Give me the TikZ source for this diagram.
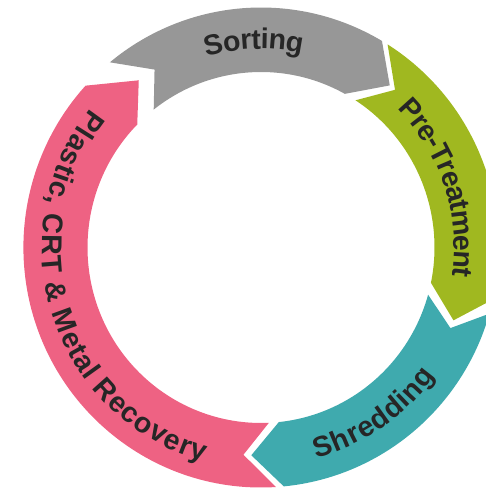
\documentclass[tikz,border=0pt]{standalone}
\usepackage{fontspec}
\setmainfont{Liberation Sans}
\usetikzlibrary{decorations.text}
\definecolor{cgray}{HTML}{979797}
\definecolor{cgreen}{HTML}{A0B820}
\definecolor{cteal}{HTML}{3FAAAE}
\definecolor{cpink}{HTML}{EE6283}
\definecolor{ctext}{HTML}{262626}
\newcommand\ringox{237.6pt}
\newcommand\ringoy{240pt}
\newcommand\ringix{173.5pt}
\newcommand\ringiy{175.5pt}
\newcommand\ringmx{205.5pt}
\newcommand\ringmy{208pt}
% #1 colour, #2 tail outer, #3 tail inner, #4 notch, #5 head outer, #6 head inner, #7 tip
\newcommand\segarrow[7]{%
  \fill[#1] (#2:\ringox\space and \ringoy)
    arc[start angle=#2, end angle=#5, x radius=\ringox, y radius=\ringoy]
    -- (#7:\ringmx\space and \ringmy)
    -- (#6:\ringix\space and \ringiy)
    arc[start angle=#6, end angle=#3, x radius=\ringix, y radius=\ringiy]
    -- (#4:\ringmx\space and \ringmy) -- cycle;}
\newcommand\lblfont{\bfseries\fontsize{28.5}{30}\selectfont}
\tikzset{arclabel/.style={decorate, decoration={text along path, text align=center, text color=ctext, raise=#1}}}
\begin{document}
\begin{tikzpicture}[x=1pt,y=1pt]
\useasboundingbox (-261,-241.5) rectangle (224,247.5);
\segarrow{cgray}{129.5}{128.2}{121.2}{59.4}{61.1}{51.2}
\segarrow{cgreen}{57.8}{57}{49.3}{-12.5}{-11.6}{-20.5}
\segarrow{cteal}{-16}{-15.6}{-22.8}{-84.5}{-84.1}{-92.7}
\segarrow{cpink}{273.6}{272.6}{265.1}{137.6}{135.5}{126.5}
% labels
\path[arclabel=-9.5pt, decoration={text={|\lblfont|Sorting}}]
  (162:205.5pt and 208pt) arc[start angle=162, end angle=22, x radius=205.5pt, y radius=208pt];
\path[arclabel=-12.5pt, decoration={text={|\lblfont|Pre-Treatment}}]
  (88.5:205.5pt and 208pt) arc[start angle=88.5, end angle=-51.5, x radius=205.5pt, y radius=208pt];
\path[arclabel=-10pt, decoration={text={|\lblfont|Shredding}}]
  (-135.8:205.5pt and 208pt) arc[start angle=-135.8, end angle=24.2, x radius=205.5pt, y radius=208pt];
\path[arclabel=-13.5pt, decoration={text={|\lblfont|Plastic, CRT {\&} Metal Recovery}}]
  (110:205.5pt and 208pt) arc[start angle=110, end angle=286, x radius=205.5pt, y radius=208pt];
\end{tikzpicture}
\end{document}
